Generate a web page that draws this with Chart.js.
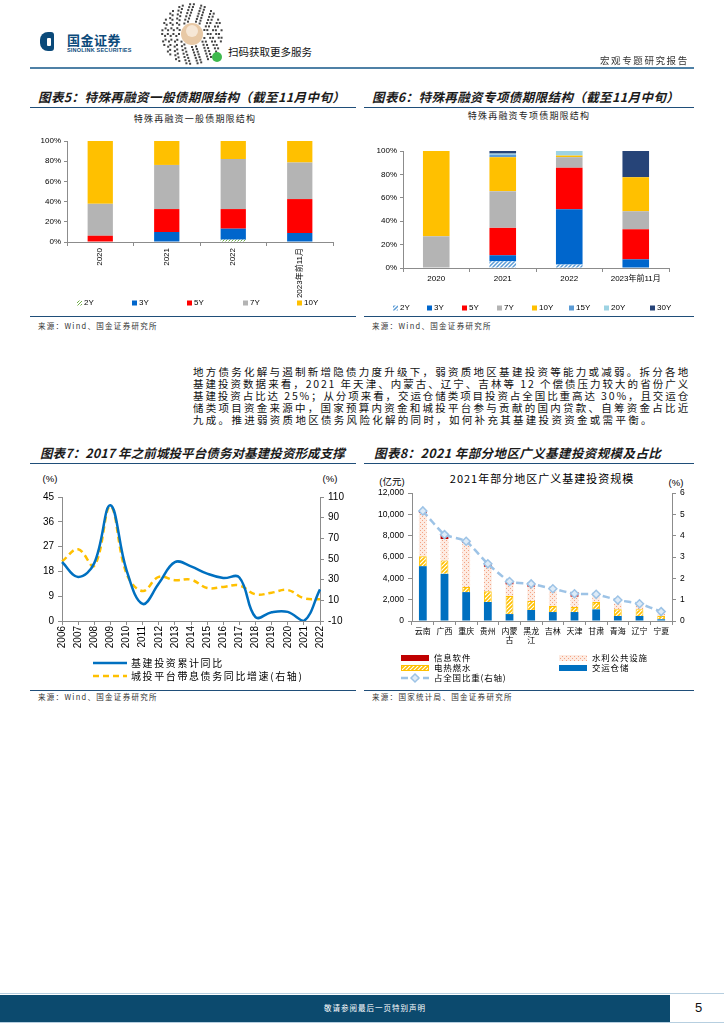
<!DOCTYPE html>
<html lang="zh">
<head>
<meta charset="utf-8">
<title>特殊再融资债与基建投资</title>
<script src="https://cdn.jsdelivr.net/npm/chart.js@4.4.1/dist/chart.umd.min.js"></script>
<style>
  body { margin: 0; background: #fff; }
  #page { position: relative; width: 724px; height: 1024px; overflow: hidden; font-family: "Noto Sans CJK SC", sans-serif; color: #000; }
  #page div, #page canvas { position: absolute; white-space: nowrap; }
  .ttl { font-size: 12.5px; line-height: 16px; font-weight: bold; font-style: italic; letter-spacing: 0.4px; color: #1b1b1b; }
  .rule { height: 1px; background: #1f4e79; }
  .src { font-size: 7.5px; line-height: 10px; letter-spacing: 1.3px; color: #333; }
  .sub { font-size: 9px; line-height: 12px; letter-spacing: 1.2px; color: #222; transform: translateX(-50%); }
  .unit { font-family: "Liberation Sans", "Noto Sans CJK SC", sans-serif; font-size: 9.5px; line-height: 12px; transform: translateX(-50%); }
  .para { left: 193px; width: 497px; font-size: 10.5px; line-height: 12px; letter-spacing: 1.8px; text-align: justify; text-align-last: justify; color: #111; }
</style>
</head>
<body>
<div id="page">

  <!-- header -->
  <div style="left:40px;top:32px;width:14px;height:19px;background:#0b4a7a;border-radius:8px 3px 3px 8px;"></div>
  <div style="left:47px;top:38px;width:4px;height:8px;background:#fff;border-radius:1px;"></div>
  <div style="left:67px;top:33px;font-size:13px;line-height:14px;font-weight:bold;color:#0b4a7a;letter-spacing:0.5px;">国金证券</div>
  <div style="left:67px;top:47px;font-family:'Liberation Sans',sans-serif;font-size:5.5px;line-height:6px;font-weight:bold;color:#0b4a7a;letter-spacing:0.2px;">SINOLINK SECURITIES</div>
  <canvas id="qr" width="64" height="64" style="left:160px;top:2px;"></canvas>
  <div style="left:228px;top:45px;font-size:10.5px;line-height:14px;color:#111;">扫码获取更多服务</div>
  <div style="left:600px;top:54px;font-size:9.5px;line-height:12px;letter-spacing:1.6px;color:#333;">宏观专题研究报告</div>
  <div style="left:30px;top:67px;width:664px;height:2px;background:#4f81a6;"></div>

  <!-- top row titles -->
  <div class="ttl" style="left:38px;top:89px;">图表5：特殊再融资一般债期限结构（截至11月中旬）</div>
  <div class="ttl" style="left:372px;top:89px;">图表6：特殊再融资专项债期限结构（截至11月中旬）</div>
  <div class="rule" style="left:30px;top:107px;width:326px;"></div>
  <div class="rule" style="left:364px;top:107px;width:330px;"></div>
  <div class="sub" style="left:195px;top:113px;">特殊再融资一般债期限结构</div>
  <div class="sub" style="left:529px;top:110px;">特殊再融资专项债期限结构</div>
  <canvas id="c5" width="325" height="186" style="left:30px;top:128px;"></canvas>
  <canvas id="c6" width="328" height="186" style="left:364px;top:128px;"></canvas>
  <div class="rule" style="left:30px;top:316px;width:326px;"></div>
  <div class="rule" style="left:364px;top:316px;width:330px;"></div>
  <div class="src" style="left:38px;top:321px;">来源：Wind、国金证券研究所</div>
  <div class="src" style="left:372px;top:321px;">来源：Wind、国金证券研究所</div>

  <!-- body text -->
  <div class="para" style="top:366px;">地方债务化解与遏制新增隐债力度升级下，弱资质地区基建投资等能力或减弱。拆分各地</div>
  <div class="para" style="top:378px;">基建投资数据来看，2021 年天津、内蒙古、辽宁、吉林等 12 个偿债压力较大的省份广义</div>
  <div class="para" style="top:390px;">基建投资占比达 25%；从分项来看，交运仓储类项目投资占全国比重高达 30%，且交运仓</div>
  <div class="para" style="top:402px;">储类项目资金来源中，国家预算内资金和城投平台参与贡献的国内贷款、自筹资金占比近</div>
  <div class="para" style="top:414px;letter-spacing:2.3px;text-align:left;text-align-last:left;">九成。推进弱资质地区债务风险化解的同时，如何补充其基建投资资金或需平衡。</div>

  <!-- bottom row titles -->
  <div class="ttl" style="left:40px;top:445px;letter-spacing:0.1px;">图表7：2017 年之前城投平台债务对基建投资形成支撑</div>
  <div class="ttl" style="left:374px;top:445px;">图表8：2021 年部分地区广义基建投资规模及占比</div>
  <div class="rule" style="left:30px;top:463px;width:326px;"></div>
  <div class="rule" style="left:364px;top:463px;width:330px;"></div>
  <div class="unit" style="left:50px;top:473px;">(%)</div>
  <div class="unit" style="left:330px;top:473px;">(%)</div>
  <div class="unit" style="left:392px;top:476px;">(亿元)</div>
  <div class="unit" style="left:676px;top:477px;">(%)</div>
  <div style="left:542px;top:471px;transform:translateX(-50%);font-size:11px;line-height:14px;letter-spacing:1px;">2021年部分地区广义基建投资规模</div>
  <canvas id="c7" width="330" height="220" style="left:30px;top:470px;"></canvas>
  <canvas id="c8" width="328" height="220" style="left:364px;top:470px;"></canvas>
  <div class="rule" style="left:30px;top:690px;width:326px;"></div>
  <div class="rule" style="left:364px;top:690px;width:330px;"></div>
  <div class="src" style="left:38px;top:692px;">来源：Wind、国金证券研究所</div>
  <div class="src" style="left:372px;top:692px;">来源：国家统计局、国金证券研究所</div>

  <!-- footer -->
  <div style="left:0;top:993px;width:724px;height:1px;background:#b7cfe0;"></div>
  <div style="left:0;top:995px;width:670px;height:27px;background:#0c4a6e;"></div>
  <div style="left:0;top:1022px;width:724px;height:1px;background:#b7cfe0;"></div>
  <div style="left:375px;top:1003px;transform:translateX(-50%);font-size:7.5px;line-height:10px;letter-spacing:1px;color:#fff;">敬请参阅最后一页特别声明</div>
  <div style="left:695px;top:1000px;font-family:'Liberation Sans',sans-serif;font-size:13px;line-height:16px;color:#111;">5</div>
</div>

<script>
// 图表5 一般债 期限结构 (%)
const termYears = ["2020", "2021", "2022", "2023年前11月"]
const gen2Y  = [0, 0, 2.3, 0]
const gen3Y  = [0, 9.9, 10.9, 8.9]
const gen5Y  = [6.2, 22.7, 19.4, 33.6]
const gen7Y  = [31.6, 43.7, 49.6, 36.2]
const gen10Y = [62.2, 23.7, 17.8, 21.3]

// 图表6 专项债 期限结构 (%)
const spc2Y  = [0, 5.7, 2.9, 0]
const spc3Y  = [0, 5.2, 47.4, 7.4]
const spc5Y  = [0, 23.4, 35.4, 25.7]
const spc7Y  = [27.1, 31.4, 9.0, 15.4]
const spc10Y = [72.9, 29.0, 1.4, 29.1]
const spc15Y = [0, 2.1, 0, 0]
const spc20Y = [0, 1.0, 3.9, 0]
const spc30Y = [0, 2.2, 0, 22.4]

// 图表7 基建投资 vs 城投带息债务
const years = ["2006","2007","2008","2009","2010","2011","2012","2013","2014","2015","2016","2017","2018","2019","2020","2021","2022"]
const infraYoY = [21.4, 16.0, 21.0, 42.0, 18.5, 6.2, 13.6, 21.4, 19.8, 17.2, 15.6, 15.8, 1.4, 3.2, 3.3, 0.0, 11.5]
const lgfvDebtYoY = [47.6, 59.4, 43.5, 101, 36, 19, 32.7, 29.5, 30, 22, 23, 24.4, 15.8, 17.4, 20, 12, 11]
const leftTicks = [0, 9, 18, 27, 36, 45]
const rightTicks = [-10, 10, 30, 50, 70, 90, 110]

// 图表8 2021 年部分地区广义基建投资 (亿元) 及占全国比重 (%)
const regions = ["云南", "广西", "重庆", "贵州", ["内蒙", "古"], ["黑龙", "江"], "吉林", "天津", "甘肃", "青海", "辽宁", "宁夏"]
const transport    = [5140, 4420, 2710, 1780, 650, 1030, 840, 840, 1090, 470, 470, 160]
const utilities    = [930, 1250, 470, 1020, 1690, 840, 560, 470, 690, 620, 620, 310]
const waterPublic  = [4050, 2020, 4140, 2280, 1090, 1340, 1400, 960, 770, 560, 530, 220]
const infoSoftware = [160, 400, 160, 220, 250, 150, 0, 440, 0, 0, 0, 0]
const nationalShare = [5.16, 4.05, 3.74, 2.68, 1.85, 1.74, 1.51, 1.28, 1.25, 0.98, 0.81, 0.44]


Chart.defaults.font.family = "'Liberation Sans','Noto Sans CJK SC',sans-serif"
Chart.defaults.color = "#000"
Chart.defaults.animation = false
Chart.defaults.responsive = false
Chart.defaults.devicePixelRatio = 1
Chart.defaults.plugins.legend.display = false
Chart.defaults.plugins.tooltip.enabled = false

const axisGray = "#8c8c8c"


// fill patterns
function stripes(fg, bg, size, width){
    const c = document.createElement("canvas")
    c.width = c.height = size
    const g = c.getContext("2d")
    g.fillStyle = bg
    g.fillRect(0, 0, size, size)
    g.strokeStyle = fg
    g.lineWidth = width
    g.beginPath()
    g.moveTo(0, size); g.lineTo(size, 0)
    g.moveTo(-size/2, size/2); g.lineTo(size/2, -size/2)
    g.moveTo(size/2, size*1.5); g.lineTo(size*1.5, size/2)
    g.stroke()
    return g.createPattern(c, "repeat")
}

function dots(fg, bg){
    const c = document.createElement("canvas")
    c.width = c.height = 4
    const g = c.getContext("2d")
    g.fillStyle = bg
    g.fillRect(0, 0, 4, 4)
    g.fillStyle = fg
    g.fillRect(0, 0, 1, 1)
    g.fillRect(2, 2, 1, 1)
    return g.createPattern(c, "repeat")
}


// legend drawn at fixed spots, using each dataset's own style
const posLegend = {
    id: "posLegend",
    afterDraw(chart, args, o){
        if(!o.items) return
        const ctx = chart.ctx
        ctx.save()
        ctx.font = o.font
        ctx.textBaseline = "middle"
        chart.data.datasets.forEach((ds, i) => {
            const p = o.items[i]
            if(!p) return
            const isLine = ds.type === "line" || chart.config.type === "line"
            if(isLine){
                ctx.strokeStyle = ds.borderColor
                ctx.lineWidth = ds.borderWidth
                ctx.setLineDash(ds.borderDash || [])
                ctx.beginPath()
                ctx.moveTo(p.x, p.y)
                ctx.lineTo(p.x + o.w, p.y)
                ctx.stroke()
                ctx.setLineDash([])
                if(ds.pointRadius){
                    const cx = p.x + o.w/2, r = ds.pointRadius
                    ctx.beginPath()
                    ctx.moveTo(cx, p.y - r); ctx.lineTo(cx + r, p.y)
                    ctx.lineTo(cx, p.y + r); ctx.lineTo(cx - r, p.y)
                    ctx.closePath()
                    ctx.fillStyle = ds.pointBackgroundColor
                    ctx.fill()
                    ctx.lineWidth = ds.pointBorderWidth
                    ctx.stroke()
                }
            }
            else{
                ctx.fillStyle = ds.backgroundColor
                ctx.fillRect(p.x, p.y - o.h/2, o.w, o.h)
                if(ds.borderWidth){
                    ctx.strokeStyle = ds.borderColor
                    ctx.lineWidth = 1
                    ctx.strokeRect(p.x + 0.5, p.y - o.h/2 + 0.5, o.w - 1, o.h - 1)
                }
            }
            ctx.fillStyle = "#000"
            ctx.letterSpacing = (o.spacing || 0) + "px"
            ctx.fillText(ds.label, p.x + o.w + o.gap, p.y)
            ctx.letterSpacing = "0px"
        })
        ctx.restore()
    }
}


// 图表5
new Chart(document.getElementById("c5"), {
    type: "bar",
    data: {
        labels: termYears,
        datasets: [
            { label: "2Y",  data: gen2Y,  backgroundColor: stripes("#70AD47", "#fff", 3, 1) },
            { label: "3Y",  data: gen3Y,  backgroundColor: "#0066CC" },
            { label: "5Y",  data: gen5Y,  backgroundColor: "#FF0000" },
            { label: "7Y",  data: gen7Y,  backgroundColor: "#B4B4B4" },
            { label: "10Y", data: gen10Y, backgroundColor: "#FFC000" }
        ]
    },
    options: {
        layout: { padding: { top: 13, right: 22, left: 0, bottom: 0 } },
        datasets: { bar: { categoryPercentage: 1, barPercentage: 0.38 } },
        scales: {
            x: {
                stacked: true,
                grid: { drawOnChartArea: false, tickLength: 4, color: axisGray },
                border: { color: axisGray },
                ticks: { minRotation: 90, maxRotation: 90, font: { size: 8 }, padding: 2 },
                afterFit(s){ s.height = 72 }
            },
            y: {
                stacked: true, min: 0, max: 100,
                grid: { drawOnChartArea: false, tickLength: 3, color: axisGray },
                border: { color: axisGray },
                ticks: { stepSize: 20, font: { size: 8 }, padding: 3, callback: v => v + "%" },
                afterFit(s){ s.width = 37 }
            }
        },
        plugins: {
            posLegend: {
                font: "8px 'Liberation Sans'", w: 5, h: 5, gap: 2,
                items: [{x: 47, y: 175}, {x: 102, y: 175}, {x: 157, y: 175}, {x: 213, y: 175}, {x: 267, y: 175}]
            }
        }
    },
    plugins: [posLegend]
})


// 图表6
new Chart(document.getElementById("c6"), {
    type: "bar",
    data: {
        labels: termYears,
        datasets: [
            { label: "2Y",  data: spc2Y,  backgroundColor: stripes("#5B9BD5", "#fff", 4, 1.5) },
            { label: "3Y",  data: spc3Y,  backgroundColor: "#0066CC" },
            { label: "5Y",  data: spc5Y,  backgroundColor: "#FF0000" },
            { label: "7Y",  data: spc7Y,  backgroundColor: "#B4B4B4" },
            { label: "10Y", data: spc10Y, backgroundColor: "#FFC000" },
            { label: "15Y", data: spc15Y, backgroundColor: "#5B9BD5" },
            { label: "20Y", data: spc20Y, backgroundColor: "#9DD3E3" },
            { label: "30Y", data: spc30Y, backgroundColor: "#264478" }
        ]
    },
    options: {
        layout: { padding: { top: 23, right: 23, left: 0, bottom: 0 } },
        datasets: { bar: { categoryPercentage: 1, barPercentage: 0.4 } },
        scales: {
            x: {
                stacked: true,
                grid: { drawOnChartArea: false, tickLength: 4, color: axisGray },
                border: { color: axisGray },
                ticks: { maxRotation: 0, font: { size: 8 }, padding: 2 },
                afterFit(s){ s.height = 46 }
            },
            y: {
                stacked: true, min: 0, max: 100,
                grid: { drawOnChartArea: false, tickLength: 3, color: axisGray },
                border: { color: axisGray },
                ticks: { stepSize: 20, font: { size: 8 }, padding: 3, callback: v => v + "%" },
                afterFit(s){ s.width = 39 }
            }
        },
        plugins: {
            posLegend: {
                font: "8px 'Liberation Sans'", w: 5, h: 5, gap: 2,
                items: [{x: 29, y: 180}, {x: 63, y: 180}, {x: 98, y: 180}, {x: 133, y: 180},
                        {x: 168, y: 180}, {x: 205, y: 180}, {x: 240, y: 180}, {x: 286, y: 180}]
            }
        }
    },
    plugins: [posLegend]
})


// 图表7
new Chart(document.getElementById("c7"), {
    type: "line",
    data: {
        labels: years,
        datasets: [
            {
                label: "基建投资累计同比", data: infraYoY, yAxisID: "y",
                borderColor: "#0070C0", borderWidth: 2.5, pointRadius: 0, tension: 0.4, fill: false
            },
            {
                label: "城投平台带息债务同比增速(右轴)", data: lgfvDebtYoY, yAxisID: "y1",
                borderColor: "#FFC000", borderWidth: 2.5, borderDash: [6, 4], pointRadius: 0, tension: 0.4, fill: false
            }
        ]
    },
    options: {
        layout: { padding: { top: 27, right: 0, left: 0, bottom: 0 } },
        scales: {
            x: {
                grid: { drawOnChartArea: false, tickLength: 4, color: axisGray },
                border: { color: axisGray },
                ticks: { minRotation: 90, maxRotation: 90, autoSkip: false, font: { size: 10 }, padding: 1 },
                afterFit(s){ s.height = 69 }
            },
            y: {
                position: "left", min: 0, max: 45,
                grid: { drawOnChartArea: false, tickLength: 4, color: axisGray },
                border: { color: axisGray },
                afterBuildTicks(s){ s.ticks = leftTicks.map(v => ({ value: v })) },
                ticks: { font: { size: 10 }, padding: 4 },
                afterFit(s){ s.width = 32 }
            },
            y1: {
                position: "right", min: -10, max: 110,
                grid: { drawOnChartArea: false, tickLength: 4, color: axisGray },
                border: { color: axisGray },
                afterBuildTicks(s){ s.ticks = rightTicks.map(v => ({ value: v })) },
                ticks: { font: { size: 10 }, padding: 4 },
                afterFit(s){ s.width = 40 }
            }
        },
        plugins: {
            posLegend: {
                font: "10px 'Noto Sans CJK SC'", w: 34, h: 0, gap: 4, spacing: 1.6,
                items: [{x: 63, y: 193}, {x: 63, y: 206}]
            }
        }
    },
    plugins: [posLegend]
})


// 图表8
new Chart(document.getElementById("c8"), {
    type: "bar",
    data: {
        labels: regions,
        datasets: [
            { label: "交运仓储", data: transport, backgroundColor: "#0070C0", yAxisID: "y", order: 1 },
            { label: "电热燃水", data: utilities, backgroundColor: stripes("#FFC000", "#fff", 4, 1.6),
              borderColor: "#FFC000", borderWidth: 1, yAxisID: "y", order: 1 },
            { label: "水利公共设施", data: waterPublic, backgroundColor: dots("#F2A283", "#FDEBE2"), yAxisID: "y", order: 1 },
            { label: "信息软件", data: infoSoftware, backgroundColor: "#C00000", yAxisID: "y", order: 1 },
            {
                type: "line", label: "占全国比重(右轴)", data: nationalShare, yAxisID: "y1", order: 0,
                borderColor: "#9DC3E6", borderWidth: 2.5, borderDash: [7, 4], tension: 0.15,
                pointStyle: "rectRot", pointRadius: 4, pointBackgroundColor: "#DEEBF7",
                pointBorderColor: "#9DC3E6", pointBorderWidth: 1.5
            }
        ]
    },
    options: {
        layout: { padding: { top: 23, right: 0, left: 0, bottom: 0 } },
        datasets: { bar: { categoryPercentage: 1, barPercentage: 0.36 } },
        scales: {
            x: {
                stacked: true,
                grid: { drawOnChartArea: false, tickLength: 4, color: axisGray },
                border: { color: axisGray },
                ticks: { maxRotation: 0, autoSkip: false, font: { size: 8, family: "'Noto Sans CJK SC'", lineHeight: 1.2 }, padding: 1 },
                afterFit(s){ s.height = 69 }
            },
            y: {
                stacked: true, position: "left", min: 0, max: 12000,
                grid: { drawOnChartArea: false, tickLength: 4, color: axisGray },
                border: { color: axisGray },
                ticks: { stepSize: 2000, font: { size: 8.5 }, padding: 4, callback: v => v.toLocaleString("en-US") },
                afterFit(s){ s.width = 48 }
            },
            y1: {
                position: "right", min: 0, max: 6,
                grid: { drawOnChartArea: false, tickLength: 4, color: axisGray },
                border: { color: axisGray },
                ticks: { stepSize: 1, font: { size: 8.5 }, padding: 4 },
                afterFit(s){ s.width = 20 }
            }
        },
        plugins: {
            posLegend: {
                font: "8.5px 'Noto Sans CJK SC'", w: 28, h: 6, gap: 5, spacing: 0.8,
                items: [{x: 195, y: 198}, {x: 37, y: 198}, {x: 195, y: 188}, {x: 37, y: 188}, {x: 37, y: 208}]
            }
        }
    },
    plugins: [posLegend]
})


// mini program code in the header (decorative)
function drawCode(){
    const g = document.getElementById("qr").getContext("2d")
    const cx = 32, cy = 32
    g.fillStyle = "#444"
    for(let ring = 0; ring < 7; ring++){
        const r = 13 + ring * 2.8
        const n = 20 + ring * 5
        for(let k = 0; k < n; k++){
            if((k * 7 + ring * 5) % 3 === 0) continue
            const a = k / n * Math.PI * 2
            g.fillRect(cx + Math.cos(a) * r - 1, cy + Math.sin(a) * r - 1, 2, 2)
        }
    }
    g.fillStyle = "#E8C9A6"
    g.beginPath(); g.arc(cx, cy, 11, 0, Math.PI * 2); g.fill()
    g.fillStyle = "#F6E7D6"
    g.beginPath(); g.arc(cx, cy - 3, 6, 0, Math.PI * 2); g.fill()
    g.fillStyle = "#3EB94E"
    g.beginPath(); g.arc(57, 55, 5, 0, Math.PI * 2); g.fill()
}
drawCode()
</script>
</body>
</html>
